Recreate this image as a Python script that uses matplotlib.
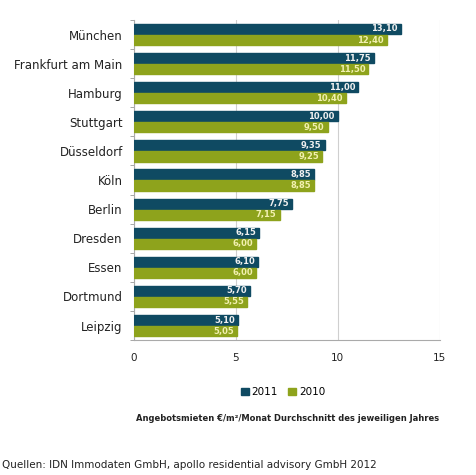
import matplotlib
matplotlib.use("Agg")
import matplotlib.pyplot as plt
import numpy as np

cities = ["München", "Frankfurt am Main", "Hamburg", "Stuttgart", "Düsseldorf",
          "Köln", "Berlin", "Dresden", "Essen", "Dortmund", "Leipzig"]
v2011 = [13.10, 11.75, 11.00, 10.00, 9.35, 8.85, 7.75, 6.15, 6.10, 5.70, 5.10]
v2010 = [12.40, 11.50, 10.40, 9.50, 9.25, 8.85, 7.15, 6.00, 6.00, 5.55, 5.05]
xticks = [0, 5, 10, 15]

c2011 = "#0f4a62"
c2010 = "#8ea31c"

fig = plt.figure(figsize=(4.76, 4.75), dpi=100)
ax = fig.add_axes([0.281, 0.284, 0.643, 0.674])

n = len(cities)
y = np.arange(n)
h = 0.35
off = 0.19
ax.barh(y - off, v2011, height=h, color=c2011, edgecolor=c2011, label="2011", zorder=3)
ax.barh(y + off, v2010, height=h, color=c2010, edgecolor=c2010, label="2010", zorder=3)

def fmt(v):
    return f"{v:.2f}".replace(".", ",")

for yi, a, b in zip(y, v2011, v2010):
    ax.text(a - 0.15, yi - off, fmt(a), ha="right", va="center", fontsize=6,
            color="#f0f0f0", fontweight="bold", zorder=4)
    ax.text(b - 0.15, yi + off, fmt(b), ha="right", va="center", fontsize=6,
            color="#f2f0b0", fontweight="bold", zorder=4)

ax.set_ylim(n - 0.5, -0.5)
ax.set_xlim(0, 15)
ax.set_yticks(y)
ax.set_yticklabels(cities, fontsize=8.5, color="#222222")
ax.tick_params(axis="y", length=0, pad=8)
ax.set_yticks(np.arange(-0.5, n, 1), minor=True)
ax.tick_params(axis="y", which="minor", length=3, color="#999999")
ax.set_xticks(xticks)
ax.set_xticklabels([str(t) for t in xticks], fontsize=7.5, color="#222222")
ax.tick_params(axis="x", length=0, pad=9)
ax.grid(axis="x", color="#cfcfcf", linewidth=0.8, zorder=0)
for s in ["top", "right"]:
    ax.spines[s].set_visible(False)
for s in ["left", "bottom"]:
    ax.spines[s].set_color("#aaaaaa")
    ax.spines[s].set_linewidth(0.8)

leg = fig.legend(handles=ax.patches[:1] + ax.patches[n:n+1], labels=["2011", "2010"],
                 loc="center", bbox_to_anchor=(0.595, 0.174), ncol=2, frameon=False,
                 fontsize=7.5, handlelength=0.7, handleheight=0.7, handletextpad=0.3,
                 columnspacing=1.0)

fig.text(0.605, 0.119, "Angebotsmieten €/m²/Monat Durchschnitt des jeweiligen Jahres",
         ha="center", va="center", fontsize=6, fontweight="bold", color="#222222")
fig.text(0.005, 0.020, "Quellen: IDN Immodaten GmbH, apollo residential advisory GmbH 2012",
         ha="left", va="center", fontsize=7.5, color="#222222")

fig.savefig("out.png", dpi=100, facecolor="white")
